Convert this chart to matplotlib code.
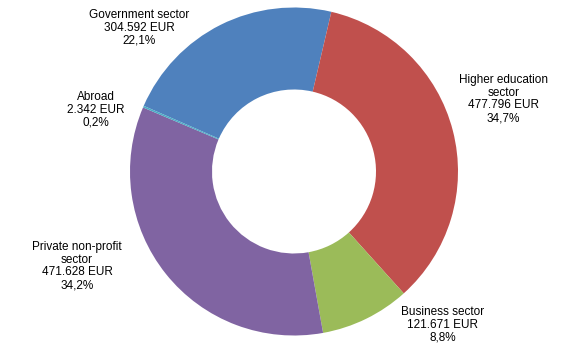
import matplotlib
matplotlib.use("Agg")
import matplotlib.pyplot as plt

# Funding sources (EUR)
sectors = ["Government sector", "Higher education\nsector", "Business sector",
           "Private non-profit\nsector", "Abroad"]
amounts = [304592, 477796, 121671, 471628, 2342]
colors = ["#4F81BD", "#C0504D", "#9BBB59", "#8064A2", "#4BACC6"]

# Label anchor points in data units (donut radius = 1)
label_xy = [(-0.945, 0.875), (1.277, 0.442), (0.907, -0.936),
            (-1.323, -0.576), (-1.210, 0.375)]

plt.rcParams["font.family"] = ["Liberation Sans", "DejaVu Sans"]

fig = plt.figure(figsize=(5.84, 3.48), dpi=100)
ax = fig.add_axes([0, 0, 1, 1])

ax.pie(amounts, colors=colors, startangle=156.4, counterclock=False,
       radius=1.0, wedgeprops=dict(width=0.5, linewidth=0))

total = sum(amounts)
for name, val, (x, y) in zip(sectors, amounts, label_xy):
    pct = val / total * 100
    amount_txt = f"{val:,}".replace(",", ".") + " EUR"
    pct_txt = f"{pct:.1f}".replace(".", ",") + "%"
    ax.text(x, y, f"{name}\n{amount_txt}\n{pct_txt}", ha="center", va="center",
            fontsize=8.5, color="black", linespacing=1.1)

ax.set_xlim(-294 / 164, (584 - 294) / 164)
ax.set_ylim(-(348 - 171.5) / 164, 171.5 / 164)
ax.set_aspect("auto")
ax.axis("off")

fig.savefig("out.png", dpi=100, facecolor="white")
